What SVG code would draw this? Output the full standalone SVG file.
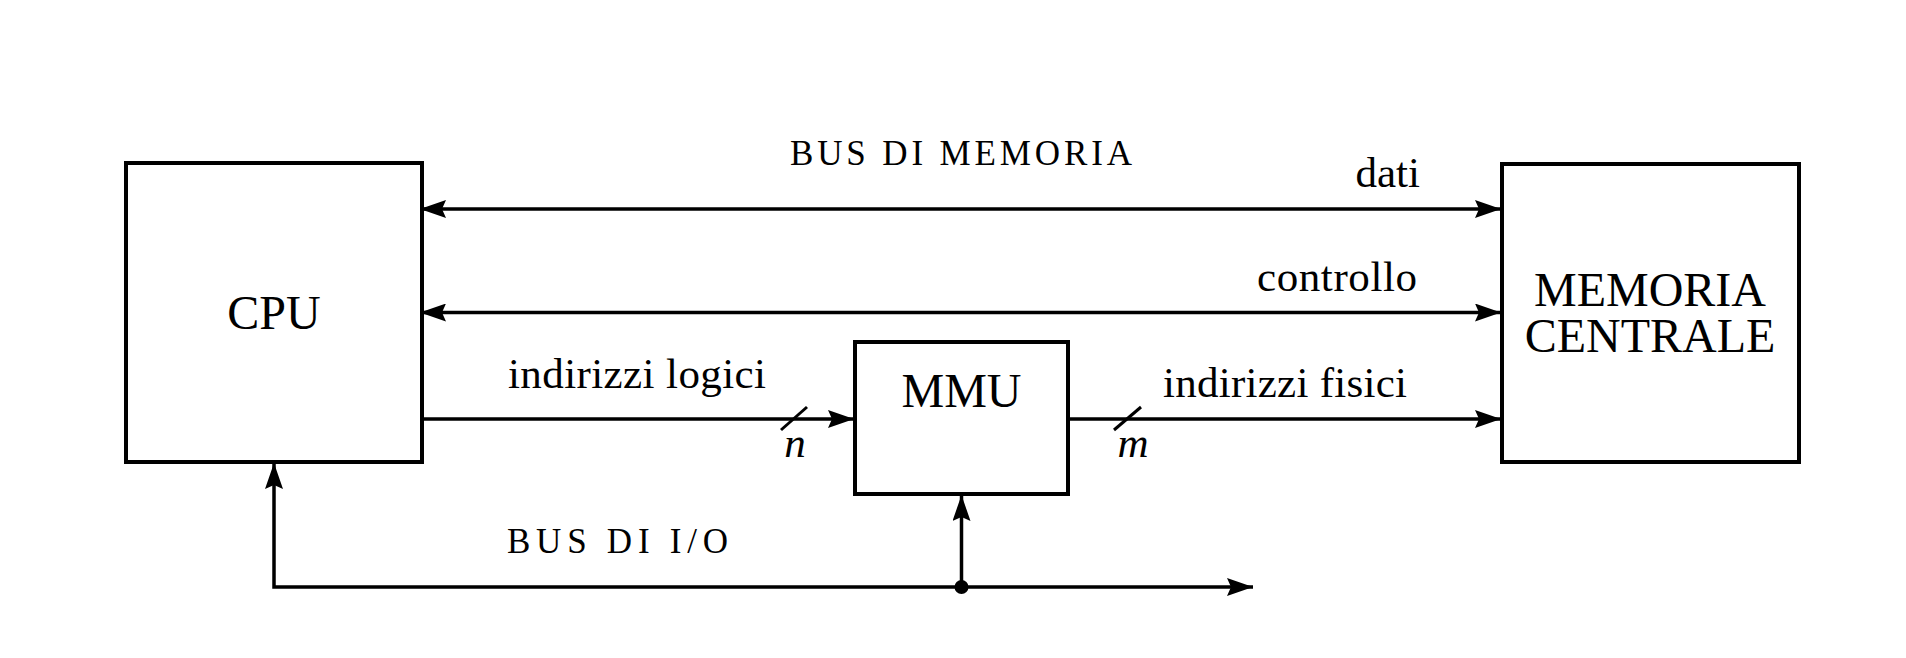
<svg xmlns="http://www.w3.org/2000/svg" width="1906" height="658" viewBox="0 0 1906 658">
<style>
.box{fill:#fff;stroke:#000;stroke-width:4}
.ln{fill:none;stroke:#000;stroke-width:3.5}
.sl{fill:none;stroke:#000;stroke-width:3}
.nt{font-family:"Liberation Serif",serif;font-size:48px;fill:#000;text-anchor:middle}
.lb{font-family:"Liberation Serif",serif;font-size:43px;fill:#000}
.sc{font-family:"Liberation Serif",serif;font-size:35px;fill:#000}
.it{font-family:"Liberation Serif",serif;font-size:43px;font-style:italic;fill:#000;text-anchor:middle}
</style>
<defs>
<marker id="ah" viewBox="0 0 26 18" refX="26" refY="9" markerWidth="26" markerHeight="18" markerUnits="userSpaceOnUse" orient="auto-start-reverse">
<path d="M0,0 L26,9 L0,18 L4,9 z" fill="#000"/>
</marker>
</defs>
<rect width="1906" height="658" fill="#fff"/>
<g id="connectors">
<line class="ln" x1="420" y1="209" x2="1501" y2="209" marker-start="url(#ah)" marker-end="url(#ah)"/>
<line class="ln" x1="420" y1="312.5" x2="1501" y2="312.5" marker-start="url(#ah)" marker-end="url(#ah)"/>
<line class="ln" x1="422" y1="419" x2="854" y2="419" marker-end="url(#ah)"/>
<line class="ln" x1="1068" y1="419" x2="1501" y2="419" marker-end="url(#ah)"/>
<path class="ln" d="M274,463 V587 H1253" marker-start="url(#ah)" marker-end="url(#ah)"/>
<line class="ln" x1="961.5" y1="587" x2="961.5" y2="495" marker-end="url(#ah)"/>
<circle cx="961.5" cy="587" r="7" fill="#000"/>
<line class="sl" x1="781" y1="430" x2="807" y2="407"/>
<line class="sl" x1="1114" y1="430" x2="1141" y2="407"/>
<text class="sc" x="790" y="165" textLength="342" lengthAdjust="spacing">BUS DI MEMORIA</text>
<text class="lb" x="1420" y="187" text-anchor="end">dati</text>
<text class="lb" x="1417" y="291" text-anchor="end" textLength="160" lengthAdjust="spacing">controllo</text>
<text class="lb" x="508" y="388" textLength="258" lengthAdjust="spacing">indirizzi logici</text>
<text class="lb" x="1163" y="397" textLength="244" lengthAdjust="spacing">indirizzi fisici</text>
<text class="it" x="795" y="457">n</text>
<text class="it" x="1133" y="457">m</text>
<text class="sc" x="507" y="553" textLength="221" lengthAdjust="spacing">BUS DI I/O</text>
</g>
<g id="cpu">
<rect class="box" x="126" y="163" width="296" height="299"/>
<text class="nt" x="274" y="329">CPU</text>
</g>
<g id="mmu">
<rect class="box" x="855" y="342" width="213" height="152"/>
<text class="nt" x="961.5" y="407">MMU</text>
</g>
<g id="memoria">
<rect class="box" x="1502" y="164" width="297" height="298"/>
<text class="nt" x="1650" y="306">MEMORIA<tspan x="1650" y="352">CENTRALE</tspan></text>
</g>
</svg>
